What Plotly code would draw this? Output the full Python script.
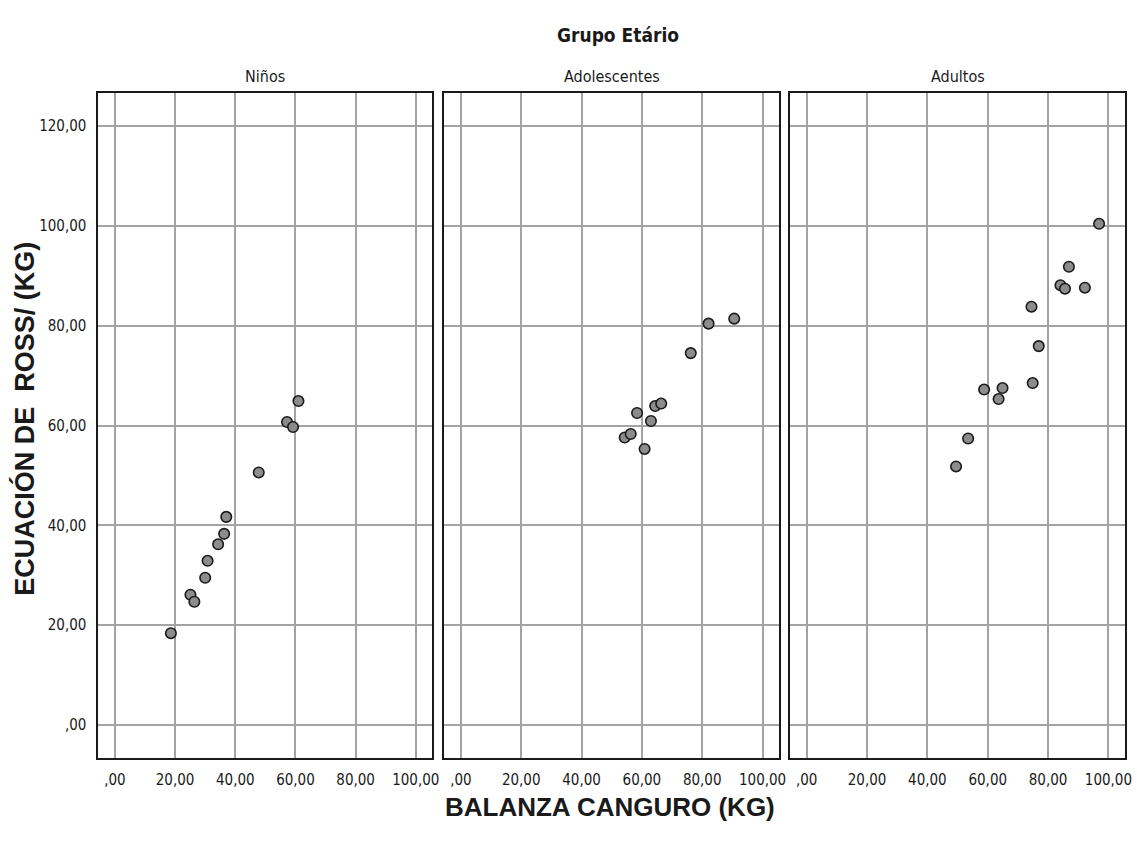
import plotly.graph_objects as go

# Group panels
groups = ["Niños", "Adolescentes", "Adultos"]

# Niños
ninos_x = [18.6, 25.1, 26.4, 30.0, 30.8, 34.3, 36.3, 37.0, 47.8, 57.2, 59.2, 61.0]
ninos_y = [18.4, 26.1, 24.7, 29.5, 32.9, 36.2, 38.3, 41.7, 50.6, 60.7, 59.7, 64.9]

# Adolescentes
adol_x = [54.3, 56.3, 60.9, 58.4, 63.0, 64.4, 66.4, 76.2, 82.1, 90.6]
adol_y = [57.6, 58.3, 55.3, 62.5, 60.9, 63.9, 64.4, 74.5, 80.4, 81.4]

# Adultos
adul_x = [49.5, 53.5, 58.8, 63.6, 64.9, 74.9, 76.9, 74.5, 84.1, 85.6, 92.2, 86.9, 96.9]
adul_y = [51.8, 57.4, 67.2, 65.3, 67.5, 68.5, 75.9, 83.8, 88.1, 87.4, 87.6, 91.8, 100.4]

# Tick values and their labels (decimal comma)
x_ticks = [0, 20, 40, 60, 80, 100]
x_tick_text = [",00", "20,00", "40,00", "60,00", "80,00", "100,00"]
y_ticks = [0, 20, 40, 60, 80, 100, 120]
y_tick_text = [",00", "20,00", "40,00", "60,00", "80,00", "100,00", "120,00"]

W, H = 1137, 853
NARROW = "Liberation Sans Narrow, Arial Narrow, DejaVu Sans Condensed, sans-serif"
BOLD = "Liberation Sans, Arial, sans-serif"

# panel pixel extents
panels_px = [(99, 435), (447, 784), (795, 1132)]
y_top_px, y_bot_px = 93, 758

fig = go.Figure()
series = [(ninos_x, ninos_y), (adol_x, adol_y), (adul_x, adul_y)]
for i, (xs, ys) in enumerate(series):
    suffix = "" if i == 0 else str(i + 1)
    fig.add_trace(go.Scatter(
        x=xs, y=ys, mode="markers",
        xaxis="x" + suffix, yaxis="y" + suffix,
        marker=dict(size=10.5, color="#8c8c8c", line=dict(color="#1a1a1a", width=1.6)),
        showlegend=False, hoverinfo="skip",
    ))

ydom = [(H - y_bot_px) / H, (H - y_top_px) / H]
axis_common = dict(
    showline=True, mirror=True, linecolor="#1a1a1a", linewidth=2,
    showgrid=True, gridcolor="#a3a3a3", gridwidth=1.6,
    zeroline=False, ticks="", fixedrange=True,
)
layout = dict(
    width=W, height=H, autosize=False,
    margin=dict(l=0, r=0, t=0, b=0),
    paper_bgcolor="white", plot_bgcolor="white",
    font=dict(family=NARROW, color="#1a1a1a"),
)
for i, (x0, x1) in enumerate(panels_px):
    suffix = "" if i == 0 else str(i + 1)
    layout["xaxis" + suffix] = dict(
        axis_common, domain=[x0 / W, x1 / W], anchor="y" + suffix,
        range=[-5.5, 105.5], tickvals=x_ticks, ticktext=x_tick_text,
        tickfont=dict(family=NARROW, size=15, color="#1a1a1a"),
        ticklabelstandoff=7,
    )
    layout["yaxis" + suffix] = dict(
        axis_common, domain=ydom, anchor="x" + suffix,
        range=[-6.6, 126.6], tickvals=y_ticks, ticktext=y_tick_text,
        showticklabels=(i == 0),
        tickfont=dict(family=NARROW, size=15, color="#1a1a1a"),
        ticklabelstandoff=7,
    )
fig.update_layout(**layout)

annotations = [
    dict(text="Grupo Etário", x=622 / W, y=1 - 35 / H, xref="paper", yref="paper",
         showarrow=False, font=dict(family=NARROW, size=19, color="#1a1a1a", weight="bold"),
         xanchor="center", yanchor="middle"),
    dict(text="BALANZA CANGURO (KG)", x=614 / W, y=1 - 807 / H, xref="paper", yref="paper",
         showarrow=False, font=dict(family=BOLD, size=26, color="#1a1a1a", weight="bold"),
         xanchor="center", yanchor="middle"),
    dict(text="ECUACIÓN DE  ROSS/ (KG)", x=24 / W, y=1 - 419 / H, xref="paper", yref="paper",
         showarrow=False, textangle=-90,
         font=dict(family=BOLD, size=27, color="#1a1a1a", weight="bold"),
         xanchor="center", yanchor="middle"),
]
for name, (x0, x1) in zip(groups, panels_px):
    annotations.append(dict(
        text=name, x=(x0 + x1) / 2 / W, y=1 - 77 / H, xref="paper", yref="paper",
        showarrow=False, font=dict(family=NARROW, size=16, color="#1a1a1a"),
        xanchor="center", yanchor="middle"))
fig.update_layout(annotations=annotations)

fig.write_html("out.html", config={"displayModeBar": False})
